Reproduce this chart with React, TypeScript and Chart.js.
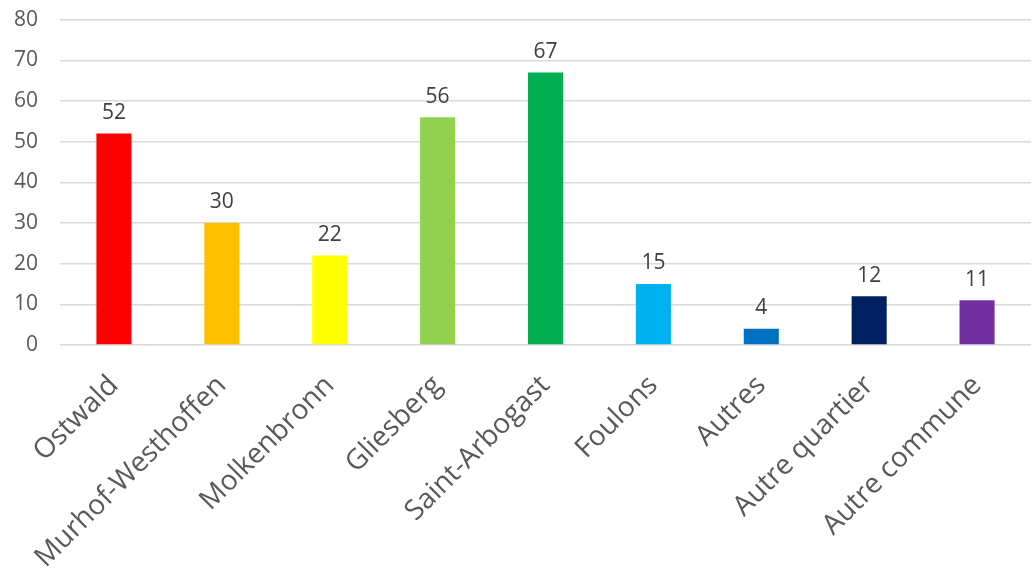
import React, { useEffect, useRef } from "react";
import { Chart, registerables } from "chart.js";

Chart.register(...registerables);

const categories = [
  "Ostwald",
  "Murhof-Westhoffen",
  "Molkenbronn",
  "Gliesberg",
  "Saint-Arbogast",
  "Foulons",
  "Autres",
  "Autre quartier",
  "Autre commune",
];
const values = [52, 30, 22, 56, 67, 15, 4, 12, 11];
const barColors = [
  "#FF0000",
  "#FFC000",
  "#FFFF00",
  "#92D050",
  "#00B050",
  "#00B0F0",
  "#0070C0",
  "#002060",
  "#7030A0",
];
const yTicks = [0, 10, 20, 30, 40, 50, 60, 70, 80];

const FONT = "'Open Sans', 'Noto Sans', sans-serif";

const valueLabels = {
  id: "valueLabels",
  afterDatasetsDraw(chart: any) {
    const ctx = chart.ctx;
    const meta = chart.getDatasetMeta(0);
    ctx.save();
    ctx.font = `21px ${FONT}`;
    ctx.fillStyle = "#404040";
    ctx.textAlign = "center";
    ctx.textBaseline = "bottom";
    meta.data.forEach((bar: any, i: number) => {
      ctx.fillText(String(chart.data.datasets[0].data[i]), bar.x, bar.y - 10);
    });
    ctx.restore();
  },
};

export default function App() {
  const ref = useRef<HTMLCanvasElement>(null);
  useEffect(() => {
    document.body.style.margin = "0";
    const chart = new Chart(ref.current!, {
      type: "bar",
      data: {
        labels: categories,
        datasets: [
          {
            data: values,
            backgroundColor: barColors,
            barPercentage: 0.325,
            categoryPercentage: 1,
          },
        ],
      },
      options: {
        animation: false,
        responsive: false,
        maintainAspectRatio: false,
        layout: { padding: { top: 4, right: 3, left: 0, bottom: 0 } },
        plugins: { legend: { display: false }, tooltip: { enabled: false } },
        scales: {
          x: {
            grid: { display: false, drawTicks: false },
            border: { display: false },
            ticks: {
              autoSkip: false,
              maxRotation: 45,
              minRotation: 45,
              color: "#595959",
              font: { family: FONT, size: 28 },
              padding: 24,
            },
            afterFit: (scale: any) => {
              scale.height = 225;
            },
          },
          y: {
            min: 0,
            max: 80,
            afterBuildTicks: (scale: any) => {
              scale.ticks = yTicks.map((v) => ({ value: v }));
            },
            grid: { color: "#D9D9D9", lineWidth: 1.5, drawTicks: false },
            border: { display: false },
            ticks: {
              color: "#595959",
              font: { family: FONT, size: 21 },
              padding: 22,
            },
            afterFit: (scale: any) => {
              scale.width = 60;
            },
          },
        },
      },
      plugins: [valueLabels],
    });
    return () => chart.destroy();
  }, []);
  return (
    <div style={{ position: "absolute", left: 0, top: 0, width: 1034, height: 570, overflow: "hidden" }}>
      <canvas
        ref={ref}
        width={1034}
        height={585}
        style={{ position: "absolute", left: 0, top: -15, width: 1034, height: 585 }}
      />
    </div>
  );
}
